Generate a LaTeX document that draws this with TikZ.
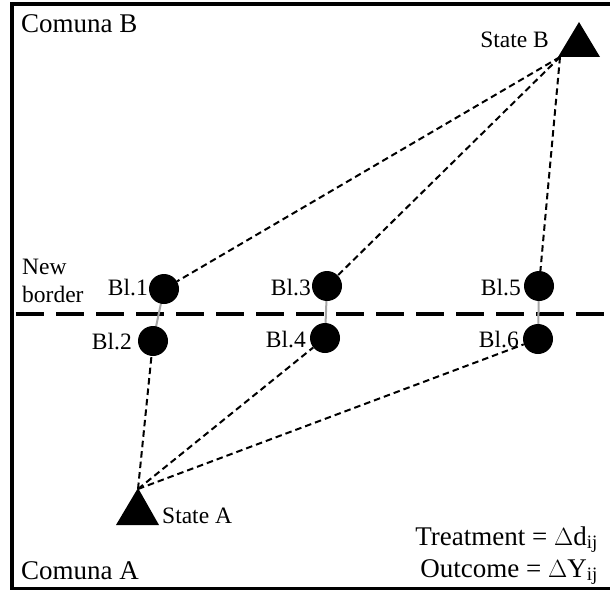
\documentclass[tikz,border=0pt]{standalone}
\usepackage{fontspec}
\setmainfont{Liberation Serif}
\begin{document}
\begin{tikzpicture}[x=1pt,y=-1pt,
  lbl/.style={font=\fontsize{23.5}{27}\selectfont, inner sep=0pt},
  big/.style={font=\fontsize{27}{30}\selectfont, inner sep=0pt},
  blk/.style={circle, fill=black, minimum size=30pt, inner sep=0pt},
  tri/.style={fill=black},
  conn/.style={line width=2pt, dash pattern=on 6.5pt off 4pt},
  link/.style={line width=2pt, gray!70},
  frame/.style={line width=3.5pt}]
\useasboundingbox (0,0) rectangle (610,591);
% frame
\draw[frame] (616,4) -- (12,4) -- (12,588.5) -- (616,588.5);
% new border
\coordinate (bl) at (12,314);
\coordinate (br) at (616,314);
\draw[line width=4pt, dash pattern=on 28pt off 12pt, dash phase=-4pt] (bl) -- (br);
% states
\fill[tri] (579,22) -- (600,57) -- (558,57) -- cycle;
\coordinate (sB) at (560,57);
\fill[tri] (138,488) -- (159,525) -- (116,525) -- cycle;
\coordinate (sA) at (138,489);
% links (under the blocks)
\coordinate (p1) at (164,289);
\coordinate (p2) at (153,341);
\coordinate (p3) at (327,286);
\coordinate (p4) at (325,338);
\coordinate (p5) at (539,286);
\coordinate (p6) at (538,339);
\draw[link] (p1) -- (p2);
\draw[link] (p3) -- (p4);
\draw[link] (p5) -- (p6);
% blocks
\node[blk] (b1) at (p1) {};
\node[blk] (b2) at (p2) {};
\node[blk] (b3) at (p3) {};
\node[blk] (b4) at (p4) {};
\node[blk] (b5) at (p5) {};
\node[blk] (b6) at (p6) {};
% connectors
\draw[conn] (sB) -- (b1);
\draw[conn] (sB) -- (b3);
\draw[conn] (sB) -- (b5);
\draw[conn] (sA) -- (b2);
\draw[conn] (sA) -- (b4);
\draw[conn] (sA) -- (b6);
% labels
\node[big, anchor=base west] (cb) at (21,33) {Comuna B};
\node[big, anchor=base west] (ca) at (21,579) {Comuna A};
\node[lbl, anchor=base east] (tsb) at (549,48) {State B};
\node[lbl, anchor=base west] (tsa) at (162,523) {State A};
\node[lbl, anchor=base west] (nb1) at (22,274) {New};
\node[lbl, anchor=base west] (nb2) at (22,302) {border};
\node[lbl, anchor=base east] (l1) at (148,295) {Bl.1};
\node[lbl, anchor=base east] (l2) at (132,349) {Bl.2};
\node[lbl, anchor=base east] (l3) at (311,295) {Bl.3};
\node[lbl, anchor=base east] (l4) at (306,347) {Bl.4};
\node[lbl, anchor=base east] (l5) at (521,295) {Bl.5};
\node[lbl, anchor=base east] (l6) at (519,347) {Bl.6};
\node[big, anchor=base east] (tr) at (598,545) {Treatment = $\Delta$d\textsubscript{ij}};
\node[big, anchor=base east] (oc) at (598,577) {Outcome = $\Delta$Y\textsubscript{ij}};
\end{tikzpicture}
\end{document}
